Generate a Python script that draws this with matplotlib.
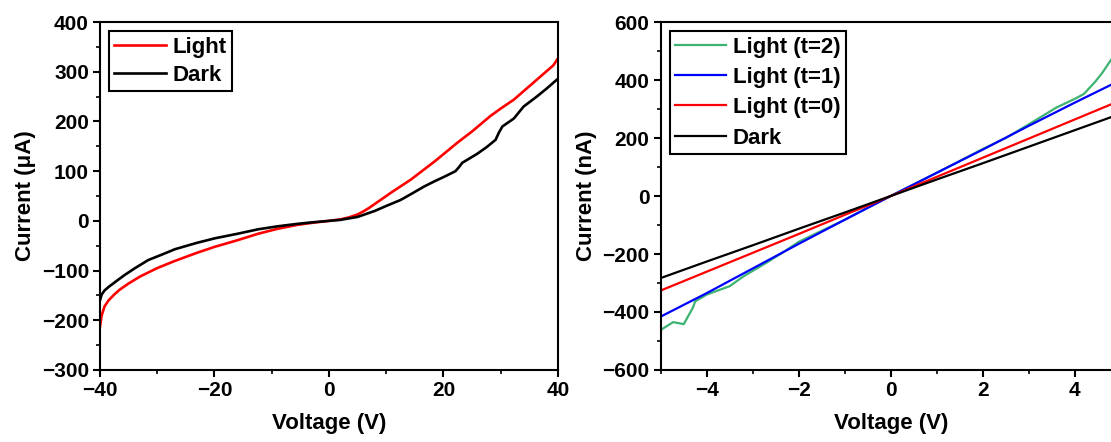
import numpy as np
import matplotlib
matplotlib.use('Agg')
import matplotlib.pyplot as plt
from matplotlib.ticker import MultipleLocator

plt.rcParams['font.family'] = ['Liberation Sans', 'DejaVu Sans']
plt.rcParams['font.weight'] = 'bold'
plt.rcParams['axes.labelweight'] = 'bold'

# --- left panel : I-V (uA), -40..40 V
v_left = [-40, -39.7, -39.2, -38.5, -37.5, -36.5, -35, -33, -30, -27, -23, -19.9, -16,
          -12.4, -9, -5.5, -3, 0, 2, 3.5, 5, 6, 7, 8, 9, 11, 14.3, 18.5, 22.4, 25,
          28.2, 30, 32.3, 34, 36, 38.1, 39.2, 40]
i_light = [-213, -190, -172, -160, -148, -138, -126, -112, -95, -81, -64, -52, -39,
           -26, -16, -8, -4, 0, 3, 7, 13, 19, 26, 34, 42, 58, 83, 120, 157, 180,
           211, 226, 244, 261, 281, 302, 313, 327]

v_dark = [-40, -39.7, -39.2, -38.5, -37, -35.7, -34, -31.6, -29, -26.9, -23, -19.9,
          -16, -12.4, -9, -5.5, -3, 0, 2, 5, 8, 10, 12.5, 14.5, 16.6, 18.5, 20, 22.1,
          22.7, 23.3, 25.9, 27.5, 29.1, 29.7, 30.3, 32.3, 34, 36.4, 38, 40]
i_dark = [-160, -148, -140, -133, -120, -109, -96, -79, -67, -57, -44, -35,
          -26, -17, -11, -6, -3, 0, 2, 8, 20, 30, 42, 55, 69, 80, 88, 100,
          108, 117, 135, 148, 163, 178, 190, 206, 230, 251, 266, 286]

# --- right panel : I-V (nA), -5..5 V
v_lin = [-5, -4, -3, -2, -1, 0, 1, 2, 3, 4, 5]
i_dark_n = [-283, -226, -170, -113, -57, 0, 57, 113, 170, 227, 284]
i_t0 = [-326, -261, -196, -131, -65, 0, 66, 132, 198, 264, 330]
i_t1 = [-416, -335, -250, -165, -82, 0, 80, 160, 242, 322, 400]

v_t2 = [-5, -4.9, -4.73, -4.5, -4.3, -4.25, -4.0, -3.5, -3.2, -2.7, -2.3, -2.0, -1.5,
        -1, -0.5, 0, 1, 2, 2.5, 3, 3.6, 4.0, 4.2, 4.45, 4.6, 4.8, 5.0]
i_t2 = [-462, -452, -435, -442, -385, -363, -340, -311, -277, -230, -190, -158, -120,
        -82, -40, 0, 80, 162, 200, 247, 305, 335, 352, 395, 425, 472, 520]

fig = plt.figure(figsize=(11.11, 4.42), dpi=100)
ax1 = fig.add_axes([0.090, 0.163, 0.4122, 0.787])
ax2 = fig.add_axes([0.5947, 0.163, 0.414, 0.787])

ax1.plot(v_left, i_light, color='#ff0000', lw=1.9, label='Light')
ax1.plot(v_dark, i_dark, color='black', lw=1.9, label='Dark')
ax1.set_xlim(-40, 40)
ax1.set_ylim(-300, 400)
ax1.xaxis.set_major_locator(MultipleLocator(20))
ax1.xaxis.set_minor_locator(MultipleLocator(10))
ax1.yaxis.set_major_locator(MultipleLocator(100))
ax1.yaxis.set_minor_locator(MultipleLocator(50))
ax1.set_xlabel('Voltage (V)', fontsize=16, labelpad=9)
ax1.set_ylabel('Current (\u03bcA)', fontsize=16, labelpad=4)

ax2.plot(v_t2, i_t2, color='#3cb371', lw=1.6, label='Light (t=2)')
ax2.plot(v_lin, i_t1, color='#0000ff', lw=1.6, label='Light (t=1)')
ax2.plot(v_lin, i_t0, color='#ff0000', lw=1.6, label='Light (t=0)')
ax2.plot(v_lin, i_dark_n, color='black', lw=1.6, label='Dark')
ax2.set_xlim(-5, 5)
ax2.set_ylim(-600, 600)
ax2.xaxis.set_major_locator(MultipleLocator(2))
ax2.xaxis.set_minor_locator(MultipleLocator(1))
ax2.yaxis.set_major_locator(MultipleLocator(200))
ax2.yaxis.set_minor_locator(MultipleLocator(100))
ax2.set_xlabel('Voltage (V)', fontsize=16, labelpad=9)
ax2.set_ylabel('Current (nA)', fontsize=16, labelpad=4)

for ax, sp in ((ax1, 0.33), (ax2, 0.42)):
    for s in ax.spines.values():
        s.set_linewidth(1.5)
    ax.tick_params(which='major', direction='out', length=5, width=1.5,
                   labelsize=15, pad=3)
    ax.tick_params(which='minor', direction='out', length=3, width=1.2)
    leg = ax.legend(loc='upper left', fontsize=16, frameon=True, fancybox=False,
                    edgecolor='black', framealpha=1, handlelength=2.3,
                    handletextpad=0.3, labelspacing=sp, borderpad=0.25,
                    borderaxespad=0.4)
    leg.get_frame().set_linewidth(1.5)
    for t in leg.get_texts():
        t.set_fontweight('bold')

fig.savefig('out.png', dpi=100)
